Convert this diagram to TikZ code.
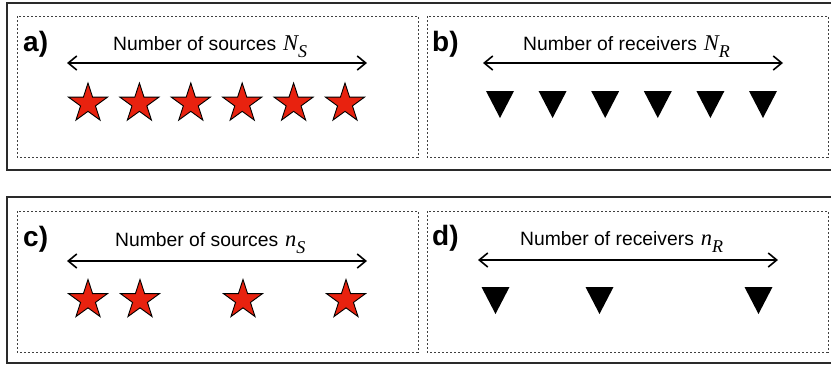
\documentclass[tikz,border=0pt]{standalone}
\usepackage{fontspec}
\setmainfont{Liberation Sans}
\newfontfamily\serif{Liberation Serif}
\usetikzlibrary{shapes.geometric,arrows.meta}
\definecolor{starred}{HTML}{E8220F}
\definecolor{framegray}{HTML}{2A2A2A}

\newcommand{\capt}[2]{\fontsize{19.3}{22}\selectfont #1\hspace{7pt}{\serif\itshape\fontsize{22.5}{24}\selectfont #2}}
\newcommand{\subidx}[1]{\raisebox{-7pt}{\serif\itshape\fontsize{18}{18}\selectfont #1}}

\tikzset{
  x=1pt, y=-1pt,
  outerbox/.style={draw=framegray, line width=1.4pt},
  panelbox/.style={draw=black!75, line width=0.9pt, dash pattern=on 2.4pt off 1.6pt},
  panellabel/.style={anchor=base west, inner sep=0pt, font=\fontsize{28}{30}\selectfont\bfseries},
  caption/.style={anchor=base west, inner sep=0pt},
  spanarrow/.style={line width=1.6pt, {Straight Barb[length=8.5pt,width=14pt,line width=1.6pt]}-{Straight Barb[length=8.5pt,width=14pt,line width=1.6pt]}},
  src/.style={shape=star, star points=5, star point ratio=2.618, minimum size=41pt, inner sep=0pt, fill=starred, draw=black, line width=0.9pt},
  rcv/.pic={\fill[black] (-14,-13.5) -- (14,-13.5) -- (0,13.5) -- cycle;}
}

\begin{document}
\begin{tikzpicture}
\useasboundingbox (0,0) rectangle (831,365);
\clip (0,0) rectangle (831,365);

% outer frames (their right ends run off the page)
\draw[outerbox] (7,3) rectangle (845,170);
\draw[outerbox] (7,197) rectangle (845,363);

% dashed panels
\draw[panelbox] (17,16) rectangle (418,157);
\draw[panelbox] (427,16) rectangle (828,157);
\draw[panelbox] (17,211) rectangle (418,352);
\draw[panelbox] (427,211) rectangle (828,352);

% ---- panel a: all sources
\node[panellabel] (la) at (23,51) {a)};
\node[caption] (ta) at (113,50.5) {\capt{Number of sources}{N\subidx{S}}};
\coordinate (aL) at (67,63);
\coordinate (aR) at (367,63);
\draw[spanarrow] (aL) -- (aR);
\foreach \i in {0,...,5}
  \node[src] (sa\i) at ({88+51.4*\i},103.5) {};

% ---- panel b: all receivers
\node[panellabel] (lb) at (432,51) {b)};
\node[caption] (tb) at (523,50.5) {\capt{Number of receivers}{N\subidx{R}}};
\coordinate (bL) at (483,63);
\coordinate (bR) at (783,63);
\draw[spanarrow] (bL) -- (bR);
\foreach \i in {0,...,5}
  \pic (rb\i) at ({500+52.6*\i},104.5) {rcv};

% ---- panel c: subset of sources
\node[panellabel] (lc) at (23,246) {c)};
\node[caption] (tc) at (115,246) {\capt{Number of sources}{n\subidx{S}}};
\coordinate (cL) at (67,261);
\coordinate (cR) at (367,261);
\draw[spanarrow] (cL) -- (cR);
\foreach \x [count=\k] in {88,140,243,346}
  \node[src] (sc\k) at (\x,300) {};

% ---- panel d: subset of receivers
\node[panellabel] (ld) at (432,245) {d)};
\node[caption] (td) at (520,245) {\capt{Number of receivers}{n\subidx{R}}};
\coordinate (dL) at (478,260);
\coordinate (dR) at (778,260);
\draw[spanarrow] (dL) -- (dR);
\foreach \x [count=\k] in {495.5,599.5,758.5}
  \pic (rd\k) at (\x,300.5) {rcv};
\end{tikzpicture}
\end{document}
